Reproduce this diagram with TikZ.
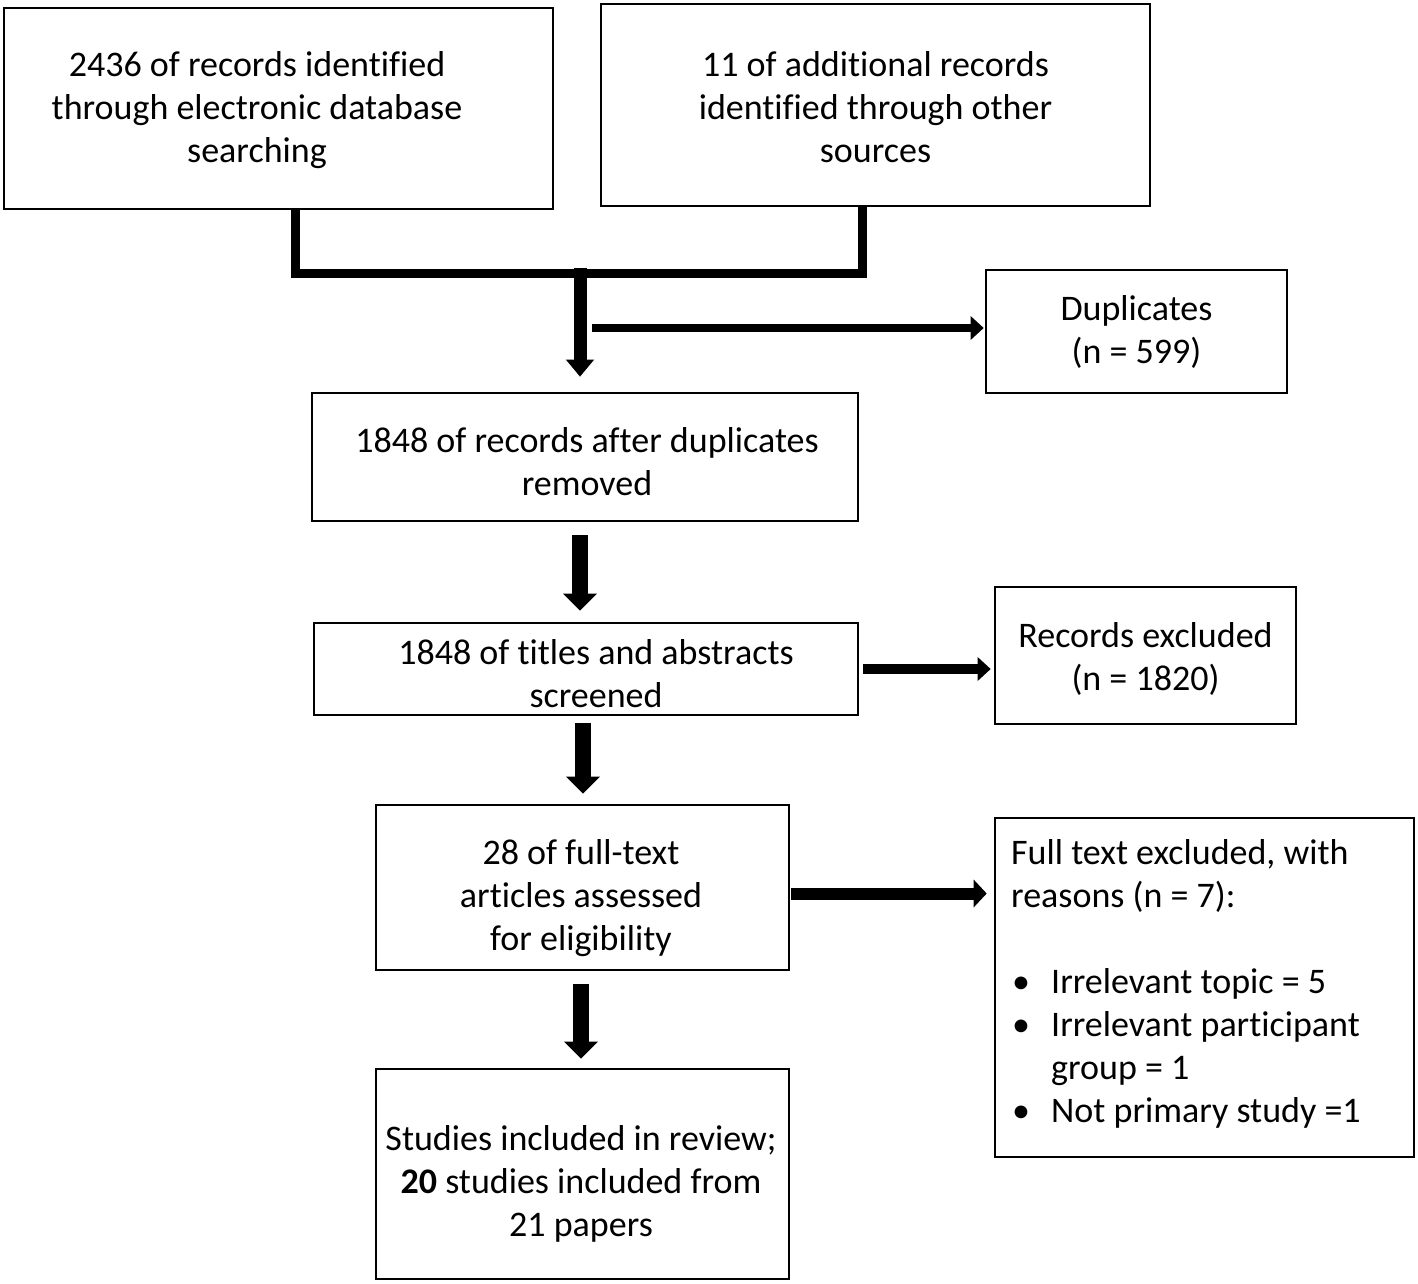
\documentclass[tikz,border=0pt]{standalone}
\usepackage{fontspec}
\setmainfont[Ligatures=NoCommon]{Carlito}
\usetikzlibrary{arrows.meta}
\begin{document}
\begin{tikzpicture}[x=1pt,y=-1pt,
  box/.style={draw, line width=2.6pt, align=center, inner sep=0pt, font=\fontsize{36}{43}\selectfont},
  txt/.style={align=center, inner sep=0pt, font=\fontsize{36}{43}\selectfont},
  bar/.style={line width=9pt, line join=miter},
  bigarrow/.style={line width=16pt, -{Triangle[width=33pt,length=17pt]}},
  toparrow/.style={line width=13pt, -{Triangle[width=27pt,length=17pt]}},
  sidearrow/.style={line width=10pt, -{Triangle[width=23pt,length=13pt]}}]
\useasboundingbox (0,0) rectangle (1418,1283);
\node[box, minimum width=549pt, minimum height=201pt] (A) at (278.5,108.5) {};
\node[txt] (At) at (257,110.5) {2436 of records identified\\through electronic database\\searching};
\node[box, minimum width=549pt, minimum height=202pt] (B) at (875.5,105) {};
\node[txt] (Bt) at (875.5,107) {11 of additional records\\identified through other\\sources};
\node[box, minimum width=301pt, minimum height=123pt] (Dup) at (1136.5,331.5) {Duplicates\\(n = 599)};
\node[box, minimum width=546pt, minimum height=128pt] (C) at (585,457) {};
\node[txt] (Ct) at (587,462) {1848 of records after duplicates\\removed};
\node[box, minimum width=544pt, minimum height=92pt] (D) at (586,669) {};
\node[txt] (Dt) at (596,674) {1848 of titles and abstracts\\screened};
\node[box, minimum width=301pt, minimum height=137pt] (R) at (1145.5,655.5) {};
\node[txt] (Rt) at (1145.5,659) {Records excluded\\(n = 1820)};
\node[box, minimum width=419pt, minimum height=339pt] (FT) at (1204.5,987.5) {};
\node[align=flush left, text width=387pt, inner sep=0pt, font=\fontsize{36}{43}\selectfont, anchor=west] (FTt) at (1011,984) {Full text excluded, with\\reasons (n = 7):\\[43pt]\makebox[40pt][l]{\hspace{1pt}\textbullet}Irrelevant topic = 5\\\makebox[40pt][l]{\hspace{1pt}\textbullet}Irrelevant participant\\\hspace*{40pt}group = 1\\\makebox[40pt][l]{\hspace{1pt}\textbullet}Not primary study =1};
\node[box, minimum width=413pt, minimum height=165pt] (E) at (582.5,887.5) {};
\node[txt] (Et) at (581,898) {28 of full-text\\articles assessed\\for eligibility};
\node[box, minimum width=413pt, minimum height=210pt] (F) at (582.5,1174) {};
\node[txt] (Ft) at (581,1184) {Studies included in review;\\\textbf{20} studies included from\\21 papers};
% merging bar
\draw[bar] ([xshift=16.5pt]A.south) -- ++(0,63) -| ([xshift=-13.5pt]B.south);
\coordinate (j) at (580,267.5);
\coordinate (h) at (592,328);
\draw[toparrow, shorten >=15pt] (j) -- (j |- C.north);
\draw[sidearrow, line width=8pt, shorten >=1pt] (h) -- (h -| Dup.west);
\draw[bigarrow, shorten <=13pt, shorten >=11pt] ([xshift=-5pt]C.south) -- ([xshift=-5pt]C.south |- D.north);
\draw[sidearrow, shorten <=4pt, shorten >=3pt] (D.east) -- (D.east -| R.west);
\draw[bigarrow, shorten <=7pt, shorten >=10pt] ([xshift=-3pt]D.south) -- ([xshift=-3pt]D.south |- E.north);
\draw[sidearrow, line width=12pt, -{Triangle[width=27pt,length=13pt]}, shorten <=1pt, shorten >=7pt] ([yshift=-6pt]E.east) -- ([yshift=-6pt]E.east -| FT.west);
\draw[bigarrow, shorten <=13pt, shorten >=9pt] ([xshift=-1.5pt]E.south) -- ([xshift=-1.5pt]E.south |- F.north);
\end{tikzpicture}
\end{document}
